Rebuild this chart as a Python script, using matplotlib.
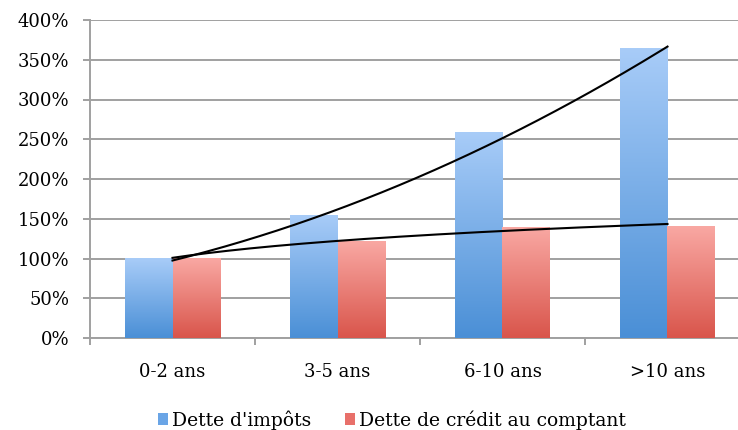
import numpy as np
import matplotlib
matplotlib.use("Agg")
import matplotlib.pyplot as plt
from matplotlib.colors import LinearSegmentedColormap
from matplotlib.patches import Patch

categories = ["0-2 ans", "3-5 ans", "6-10 ans", ">10 ans"]
impots = [100, 154, 259, 364]
credit = [100, 122, 139, 140]
series_names = ["Dette d'impôts", "Dette de crédit au comptant"]
yticks = [0, 50, 100, 150, 200, 250, 300, 350, 400]

plt.rcParams['font.family'] = ['DejaVu Serif']

fig = plt.figure(figsize=(7.38, 4.30), dpi=100)
ax = fig.add_axes([90/738, 92/430, 660/738, 318/430])

x = np.arange(len(categories))
w = 0.285
blue_cmap = LinearSegmentedColormap.from_list("b", ["#4a8fd6", "#a8ccf8"])
red_cmap = LinearSegmentedColormap.from_list("r", ["#d9554b", "#f9a8a3"])
grad = np.linspace(0, 1, 256).reshape(-1, 1)

for xi, v in zip(x, impots):
    ax.imshow(grad, cmap=blue_cmap, origin="lower", aspect="auto",
              extent=[xi - w, xi, 0, v], zorder=3)
for xi, v in zip(x, credit):
    ax.imshow(grad, cmap=red_cmap, origin="lower", aspect="auto",
              extent=[xi, xi + w, 0, v], zorder=3)

# trend lines: polynomial (order 2) for impots, logarithmic for credit
xs = np.arange(1, len(categories) + 1)
xf = np.linspace(1, len(categories), 200)
p = np.polyfit(xs, impots, 2)
ax.plot(xf - 1, np.polyval(p, xf), color="black", lw=1.5, zorder=5)
b, a = np.polyfit(np.log(xs), credit, 1)
ax.plot(xf - 1, a + b * np.log(xf), color="black", lw=1.5, zorder=5)

ax.set_xlim(-0.5, len(categories) - 0.5)
ax.set_ylim(0, 400)
ax.set_yticks(yticks)
ax.set_yticklabels([f"{t}%" for t in yticks])
ax.yaxis.grid(True, color="#a0a0a0", lw=1.4, zorder=0)
ax.set_axisbelow(True)

ax.set_xticks(x)
ax.set_xticklabels(categories)
ax.set_xticks(np.arange(-0.5, len(categories), 1), minor=True)
ax.tick_params(axis="x", which="major", length=0, pad=18, labelsize=13)
ax.tick_params(axis="x", which="minor", length=5, width=1.4, color="#a0a0a0")
ax.tick_params(axis="y", length=5, width=1.4, color="#a0a0a0", labelsize=13, pad=10)

for s in ["top", "right"]:
    ax.spines[s].set_visible(False)
for s in ["left", "bottom"]:
    ax.spines[s].set_color("#a0a0a0")
    ax.spines[s].set_linewidth(1.4)

handles = [Patch(facecolor="#6aa5e6", edgecolor="none"),
           Patch(facecolor="#e8706a", edgecolor="none")]
fig.legend(handles, series_names, loc="center", bbox_to_anchor=(392/738, 1 - 420/430),
           ncol=2, frameon=False, fontsize=13.5, handlelength=0.55, handleheight=0.55,
           handletextpad=0.2, columnspacing=1.8)

fig.savefig("out.png", dpi=100)
